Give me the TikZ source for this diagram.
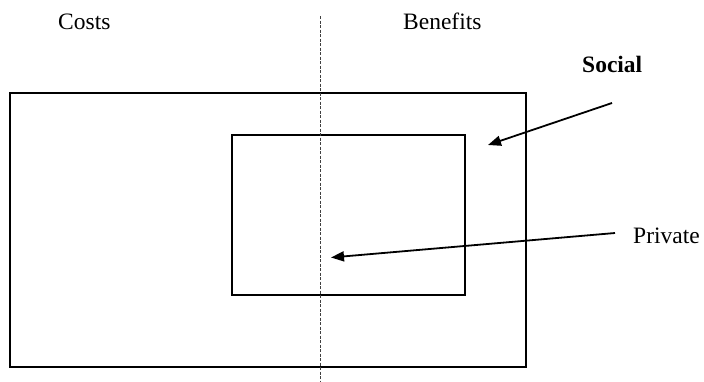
\documentclass[tikz,border=0pt]{standalone}
\usepackage{fontspec}
\setmainfont{Liberation Serif}
\usetikzlibrary{arrows.meta}
\begin{document}
\begin{tikzpicture}[x=1pt,y=-1pt,
  box/.style={draw=black,line width=2pt},
  lbl/.style={anchor=base west,inner sep=0pt,font=\fontsize{23.5pt}{28pt}\selectfont},
  pointer/.style={draw=black,line width=1.8pt,-{Triangle[length=13pt,width=10pt]}},
  divider/.style={draw=black!75,line width=0.8pt,dash pattern=on 3pt off 1.5pt}]
\useasboundingbox (0,0) rectangle (704,381);
\path[fill=white] (0,0) rectangle (704,381);
% rectangles
\node[box,minimum width=516pt,minimum height=274pt,inner sep=0pt] (social) at (268,230) {};
\node[box,minimum width=233pt,minimum height=160pt,inner sep=0pt] (private) at (348.5,215) {};
% divider
\coordinate (dtop) at (320,16);
\coordinate (dbot) at (320,381);
\draw[divider] (dtop) -- (dbot);
% labels
\node[lbl] (costs) at (58,29) {Costs};
\node[lbl] (benefits) at (403,29) {Benefits};
\node[lbl,font=\fontsize{23.5pt}{28pt}\selectfont\bfseries] (soclbl) at (582,72) {Social};
\node[lbl] (privlbl) at (633,243) {Private};
% arrows
\coordinate (s1) at (612,103);
\coordinate (t1) at (488,145);
\coordinate (s2) at (615,233);
\coordinate (t2) at (331,257.5);
\draw[pointer] (s1) -- (t1);
\draw[pointer] (s2) -- (t2);
\end{tikzpicture}
\end{document}
